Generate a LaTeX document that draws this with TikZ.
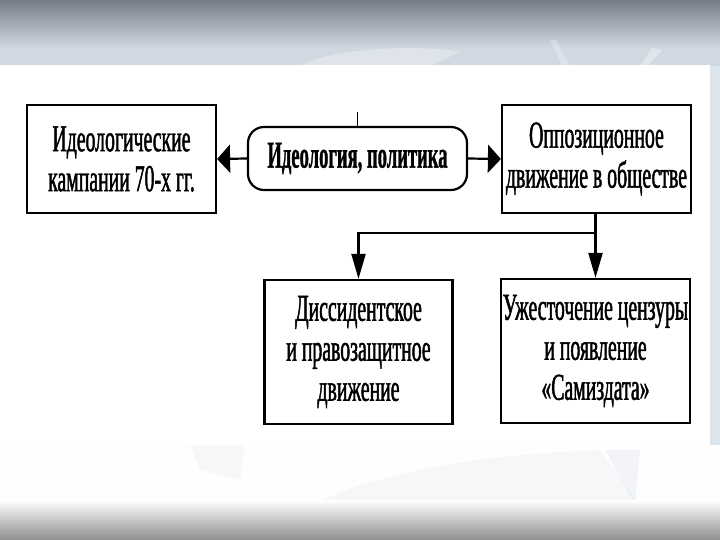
\documentclass[tikz,border=0pt]{standalone}
\usepackage{fontspec}
\setmainfont{Liberation Serif}
\newfontfamily\narrowfont[FakeStretch=0.52,FakeBold=1.2]{Liberation Serif}
\newfontfamily\narrowbold[FakeStretch=0.49,FakeBold=0.8]{Liberation Serif Bold}
\usetikzlibrary{arrows.meta}

\definecolor{bandgray}{HTML}{777C86}
\definecolor{bandblue}{HTML}{D0D9E2}
\definecolor{stripblue}{HTML}{DCE4EC}
\definecolor{footgray}{HTML}{8E8E8E}

\tikzset{
  box/.style={draw,line width=2.2pt,fill=white,align=center,inner sep=0pt,
    font=\narrowfont\fontsize{38}{40}\selectfont},
  ovalbox/.style={box,rounded corners=16pt,font=\narrowbold\fontsize{38}{40}\selectfont},
  link/.style={line width=2.2pt},
  sidearrow/.style={link,-{Triangle[length=13pt,width=28pt]}},
  downarrow/.style={link,-{Triangle[length=25pt,width=14pt]}}
}

\begin{document}
\begin{tikzpicture}[x=1pt,y=-1pt]
  \useasboundingbox (0,0) rectangle (720,540);
  % slide background
  \fill[stripblue] (0,0) rectangle (720,540);
  \shade[top color=bandgray,bottom color=bandblue] (0,0) rectangle (720,48);
  \fill[bandblue] (0,47) rectangle (720,66);
  \fill[white,opacity=.3] (300,66) .. controls (330,48) and (420,44) .. (460,52) -- (430,66) -- cycle;
  \fill[white,opacity=.25] (550,40) -- (556,40) -- (570,66) -- (562,66) -- cycle;
  \fill[white,opacity=.35] (652,48) -- (662,50) -- (648,66) -- (640,66) -- cycle;
  \fill[white!96!stripblue] (0,445) rectangle (720,505);
  \fill[stripblue,opacity=.25] (190,445) -- (245,445) -- (240,480) -- (200,470) -- cycle;
  \fill[stripblue,opacity=.25] (300,510) .. controls (380,470) and (480,455) .. (600,450) -- (640,505) -- cycle;
  \fill[stripblue,opacity=.35] (605,450) -- (640,450) -- (635,505) -- cycle;
  \shade[top color=white,bottom color=footgray] (0,500) rectangle (720,540);
  % white sheet
  \fill[white] (0,65) rectangle (710,445);

  % boxes
  \node[box,minimum width=189pt,minimum height=108pt] (kampanii) at (121.5,159)
    {Идеологические\\кампании 70-х гг.};
  \node[ovalbox,minimum width=219pt,minimum height=63pt] (ideologiya) at (357.5,158.5)
    {Идеология, политика};
  \node[box,minimum width=189pt,minimum height=108pt] (oppoziciya) at (596.5,159)
    {Оппозиционное\\движение в обществе};
  \node[box,minimum width=188pt,minimum height=144pt] (dissidenty) at (358.5,352)
    {Диссидентское\\и правозащитное\\движение};
  \node[box,minimum width=189pt,minimum height=144pt] (cenzura) at (595.5,351)
    {Ужесточение цензуры\\и появление\\«Самиздата»};

  % connectors
  \draw[line width=.6pt] (ideologiya.north) -- ++(0,-14);
  \draw[sidearrow] (ideologiya.west) -- (kampanii.east);
  \draw[sidearrow] (ideologiya.east) -- (oppoziciya.west);
  \draw[downarrow] (oppoziciya.south -| cenzura.north) -- (cenzura.north);
  \coordinate (razvilka) at (cenzura.north |- 0,233);
  \draw[downarrow] (razvilka) -| (dissidenty.north);
\end{tikzpicture}
\end{document}
